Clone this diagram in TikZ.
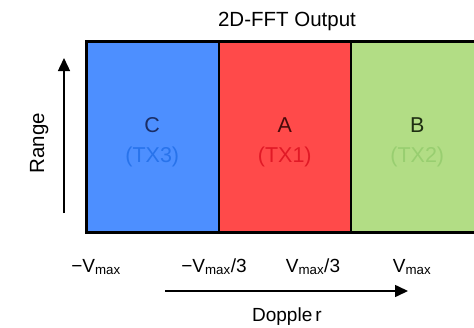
\documentclass[tikz,border=0pt]{standalone}
\usepackage{fontspec}
\setmainfont{Liberation Sans}
\usetikzlibrary{positioning,arrows.meta}
\definecolor{fftblue}{RGB}{77,143,255}
\definecolor{fftred}{RGB}{255,74,74}
\definecolor{fftgreen}{RGB}{178,221,133}
\definecolor{bluedark}{RGB}{27,46,102}
\definecolor{bluetx}{RGB}{40,115,235}
\definecolor{reddark}{RGB}{74,10,10}
\definecolor{redtx}{RGB}{225,25,38}
\definecolor{greendark}{RGB}{30,46,18}
\definecolor{greentx}{RGB}{152,206,112}

\begin{document}
\begin{tikzpicture}[
  x=1pt, y=-1pt,
  font=\fontsize{19}{21}\selectfont,
  band/.style={rectangle, draw=black, line width=2pt, outer sep=0pt,
    inner sep=0pt, minimum width=132.5pt, minimum height=191pt},
  bandlabel/.style={anchor=base, inner sep=0pt, font=\fontsize{21.5}{23}\selectfont},
  ticklabel/.style={anchor=base, inner sep=0pt},
  arr/.style={-{Triangle[length=13pt,width=12pt]}, line width=1.6pt}
]
\clip (0,0) rectangle (474,327);

% the three Doppler bands
\node[band, fill=fftblue] (colC) at (152.25,136.5) {};
\node[band, fill=fftred, right=0pt of colC] (colA) {};
\node[band, fill=fftgreen, right=0pt of colA] (colB) {};
\draw[line width=3pt] (colC.north west) rectangle (colB.south east);

\node[bandlabel, text=bluedark] (nameC) at ([yshift=4.5pt]colC.center) {C};
\node[bandlabel, text=bluetx] (txC) at ([yshift=-25.5pt]colC.center) {(TX3)};
\node[bandlabel, text=reddark] (nameA) at ([yshift=4.5pt]colA.center) {A};
\node[bandlabel, text=redtx] (txA) at ([yshift=-25.5pt]colA.center) {(TX1)};
\node[bandlabel, text=greendark] (nameB) at ([yshift=4.5pt]colB.center) {B};
\node[bandlabel, text=greentx] (txB) at ([yshift=-25.5pt]colB.center) {(TX2)};

\node[anchor=base, inner sep=0pt, font=\fontsize{20.5}{22}\selectfont]
  (title) at (287,26.5) {2D-FFT Output};

% range axis
\coordinate (rangetail) at (64,213);
\coordinate (rangehead) at (64,58);
\draw[arr, line width=1.4pt] (rangetail) -- (rangehead);
\node[anchor=base, rotate=90, inner sep=0pt, font=\fontsize{20.5}{22}\selectfont]
  (range) at (44,143) {Range};

% doppler axis
\node[ticklabel] (vmin) at (96,272) {−V\textsubscript{max}};
\node[ticklabel] (vthirdneg) at (214,272) {−V\textsubscript{max}/3};
\node[ticklabel] (vthird) at (313,272) {V\textsubscript{max}/3};
\node[ticklabel] (vmax) at (412,272) {V\textsubscript{max}};
\coordinate (doptail) at (165,291);
\coordinate (dophead) at (408,291);
\draw[arr] (doptail) -- (dophead);
\node[anchor=base, inner sep=0pt] (doppler) at (287,321.5) {Dopple\,r};
\end{tikzpicture}
\end{document}
